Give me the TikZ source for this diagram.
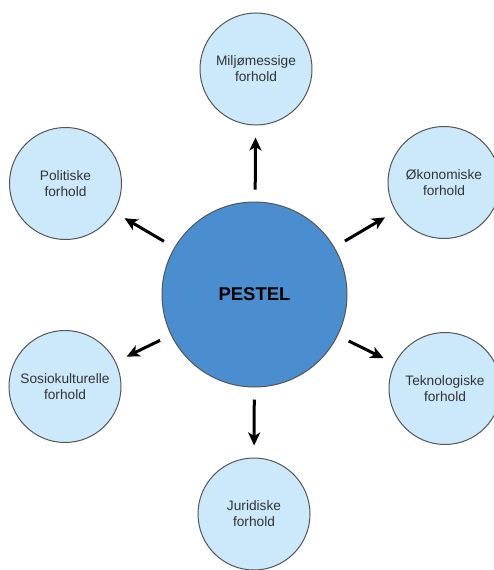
\documentclass[tikz,border=0pt]{standalone}
\usepackage{fontspec}
\setmainfont{Liberation Sans}
\usetikzlibrary{arrows.meta}
\usetikzlibrary{shapes}

\definecolor{pestelblue}{HTML}{4A8ECF}
\definecolor{factorblue}{HTML}{CCE8FB}
\definecolor{rimgray}{HTML}{555555}
\definecolor{textgray}{HTML}{333333}

\begin{document}
\begin{tikzpicture}[x=1pt, y=-1pt,
    factor/.style={draw=rimgray, line width=1pt, circle, fill=factorblue,
        minimum size=112pt, inner sep=0pt, align=center, text=textgray,
        font=\fontsize{13.7}{16}\selectfont},
    centre/.style={draw=rimgray, line width=1pt, circle, fill=pestelblue,
        minimum size=185pt, inner sep=0pt, font=\fontsize{18.5}{20}\selectfont\bfseries},
    push/.style={-{Stealth[length=13pt, width=12pt, inset=3.5pt]}, line width=3pt,
        shorten <=12pt, shorten >=12pt}]

    \useasboundingbox (0, 0) rectangle (493, 570);

    % Declare the centre
    \node[centre] at (254.5, 294.5) (P) {PESTEL};

    % Declare the factors
    \node[factor] at (256, 69) (Milj) {Miljømessige\\forhold};
    \node[factor] at (65.5, 183.5) (Pol) {Politiske\\forhold};
    \node[factor] at (444, 182.5) (Oko) {Økonomiske\\forhold};
    \node[factor] at (65, 386.5) (Sos) {Sosiokulturelle\\forhold};
    \node[factor] at (445, 388.5) (Tek) {Teknologiske\\forhold};
    \node[factor] at (254, 514) (Jur) {Juridiske\\forhold};

    % Declare edges
    \draw[push] (P) -- (Milj);
    \draw[push] (P) -- (Pol);
    \draw[push] (P) -- (Oko);
    \draw[push] (P) -- (Sos);
    \draw[push] (P) -- (Tek);
    \draw[push] (P) -- (Jur);

\end{tikzpicture}
\end{document}
